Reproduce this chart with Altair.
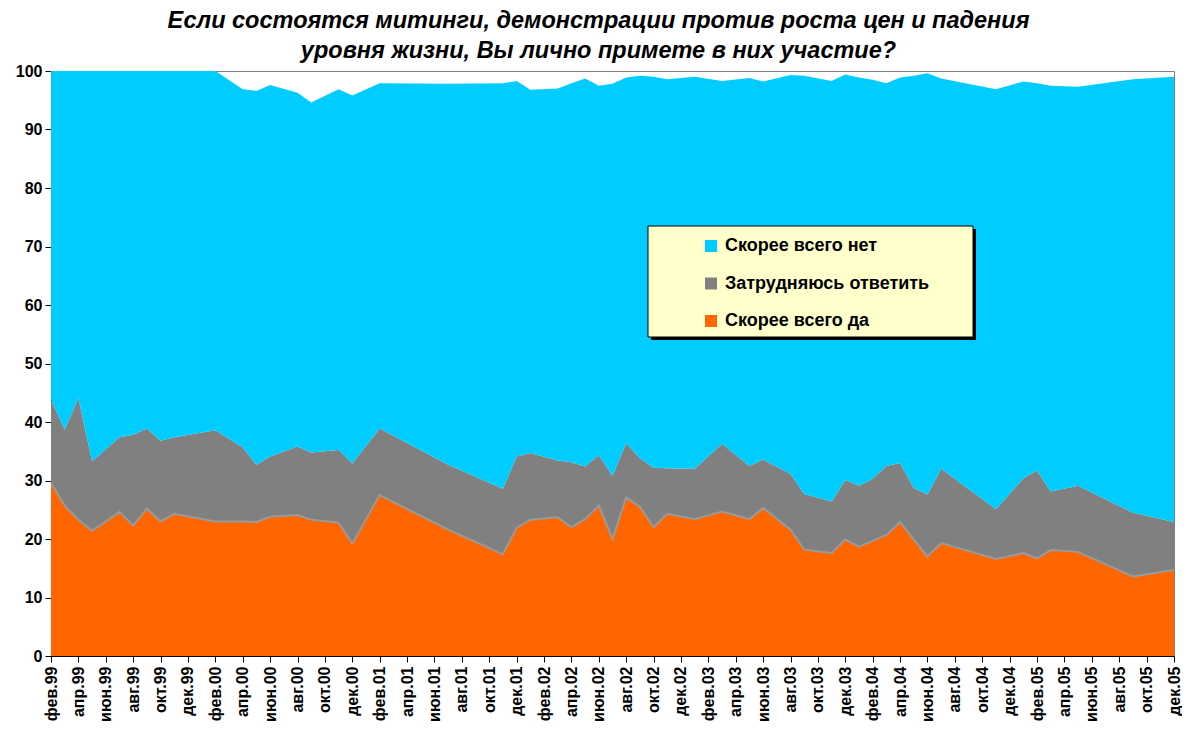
import json
import altair as alt
import pandas as pd

# month index 0 = фев.99 ... 82 = дек.05
IDX = [0, 1, 2, 3, 5, 6, 7, 8, 9, 12, 14, 15, 16, 18, 19, 21, 22, 24,
       29, 33, 34, 35, 37, 38, 39, 40, 41, 42, 43, 44, 45, 47, 49,
       51, 52, 54, 55, 57, 58, 59, 60, 61, 62, 63, 64, 65,
       69, 71, 72, 73, 75, 79, 82]
YES = [29.6, 25.7, 23.3, 21.4, 24.6, 22.3, 25.2, 23.0, 24.3, 23.0, 23.0, 22.9, 23.8, 24.1, 23.3, 22.8, 19.2, 27.5,
       21.6, 17.4, 21.9, 23.3, 23.7, 22.0, 23.4, 25.7, 20.0, 27.1, 25.5, 22.0, 24.3, 23.4, 24.7,
       23.4, 25.3, 21.6, 18.2, 17.6, 19.9, 18.7, 19.7, 20.7, 22.9, 19.9, 17.0, 19.3,
       16.6, 17.6, 16.7, 18.1, 17.8, 13.6, 14.7]
HARD = [14.2, 13.0, 20.8, 11.9, 12.8, 15.5, 13.7, 13.8, 13.1, 15.6, 12.7, 9.8, 10.3, 11.7, 11.5, 12.4, 13.7, 11.4,
        11.1, 11.2, 12.2, 11.4, 9.7, 11.1, 9.0, 8.6, 10.8, 9.3, 8.3, 10.2, 7.8, 8.6, 11.6,
        9.1, 8.3, 9.5, 9.5, 8.8, 10.2, 10.4, 10.6, 11.8, 10.1, 8.8, 10.6, 12.7,
        8.5, 12.8, 15.0, 10.0, 11.3, 10.9, 8.2]
NO = [56.2, 61.3, 55.9, 66.7, 62.6, 62.2, 61.1, 63.2, 62.6, 61.4, 61.2, 63.9, 63.5, 60.5, 59.8, 61.7, 62.9, 59.0,
      65.1, 69.3, 64.2, 62.1, 63.6, 64.8, 66.3, 63.2, 67.0, 62.5, 65.4, 66.8, 66.5, 67.0, 62.0,
      66.3, 64.6, 68.2, 71.5, 71.9, 69.3, 69.8, 68.2, 65.4, 65.9, 70.5, 72.0, 66.7,
      71.8, 67.8, 66.2, 69.4, 68.2, 74.1, 76.1]

SERIES = ["Скорее всего нет", "Затрудняюсь ответить", "Скорее всего да"]
COLORS = ["#00CCFF", "#808080", "#FF6600"]
TICK_MONTHS = ["фев", "апр", "июн", "авг", "окт", "дек"]
YEARS = ["99", "00", "01", "02", "03", "04", "05"]
TICK_LABELS = [f"{m}.{y}" for y in YEARS for m in TICK_MONTHS]
TICK_VALUES = list(range(0, 83, 2))

TITLE = ["Если состоятся митинги, демонстрации против роста цен и падения",
         "уровня жизни, Вы лично примете в них участие?"]

rows = []
for i, yv, hv, nv in zip(IDX, YES, HARD, NO):
    rows.append({"idx": i, "series": SERIES[2], "value": yv, "ord": 0})
    rows.append({"idx": i, "series": SERIES[1], "value": hv, "ord": 1})
    rows.append({"idx": i, "series": SERIES[0], "value": nv, "ord": 2})
df = pd.DataFrame(rows)

FONT = "Liberation Sans"
label_expr = json.dumps(TICK_LABELS, ensure_ascii=False) + "[round(datum.value / 2)]"

x_axis = alt.Axis(values=TICK_VALUES, labelExpr=label_expr, labelAngle=-90,
                  labelFont=FONT, labelFontSize=16, labelFontWeight="bold", labelColor="black",
                  tickColor="black", domainColor="black", tickSize=6, labelPadding=4,
                  grid=False, title=None, labelOverlap=False, labelBound=False, labelFlush=False,
                  labelSeparation=0)
x_scale = alt.Scale(domain=[0, 82], nice=False, zero=False)
y_scale = alt.Scale(domain=[0, 100], nice=False)
y_axis = alt.Axis(values=list(range(0, 101, 10)), labelFont=FONT, labelFontSize=16, labelFontWeight="bold",
                  labelColor="black", tickColor="black", domainColor="black", tickSize=6, labelPadding=3,
                  grid=False, title=None)

areas = alt.Chart(df).mark_area(interpolate="linear").encode(
    x=alt.X("idx:Q", scale=x_scale, axis=x_axis),
    y=alt.Y("value:Q", stack="zero", scale=y_scale, axis=y_axis),
    color=alt.Color("series:N", scale=alt.Scale(domain=SERIES, range=COLORS),
                    legend=alt.Legend(orient="none", legendX=651, legendY=166, title=None,
                                      symbolType="square", symbolSize=144, symbolStrokeWidth=0,
                                      labelFont=FONT, labelFontSize=18, labelFontWeight="bold",
                                      labelColor="black", rowPadding=19.5, padding=0, labelOffset=5,
                                      labelLimit=400)),
    order=alt.Order("ord:Q", sort="ascending"),
)

yes_line = alt.Chart(df).transform_filter(alt.datum.series == SERIES[2]).mark_line(
    color="#9a9a9a", strokeWidth=2, interpolate="linear"
).encode(x=alt.X("idx:Q", scale=x_scale, axis=x_axis),
         y=alt.Y("value:Q", stack=None, scale=y_scale, axis=y_axis))

box_data = alt.Data(values=[{"k": 1}])
shadow = alt.Chart(box_data).mark_rect(fill="black").encode(
    x=alt.value(600), x2=alt.value(925), y=alt.value(158), y2=alt.value(269))
box = alt.Chart(box_data).mark_rect(fill="#FFFFCC", stroke="black", strokeWidth=1).encode(
    x=alt.value(597), x2=alt.value(922), y=alt.value(155), y2=alt.value(266))

chart = alt.layer(areas, yes_line, shadow, box).properties(
    width=1123, height=585,
    padding={"left": 7, "top": 0, "right": 0, "bottom": 2},
    title=alt.TitleParams(TITLE, font=FONT, fontSize=23.5, fontWeight="bold", fontStyle="italic",
                          color="black", anchor="middle", lineHeight=30, dx=-14, offset=1),
).configure_view(stroke="#808080", strokeWidth=1).configure_axis(labelOverlap=False)

chart.save("out.html", embed_options={"renderer": "svg", "actions": False})
